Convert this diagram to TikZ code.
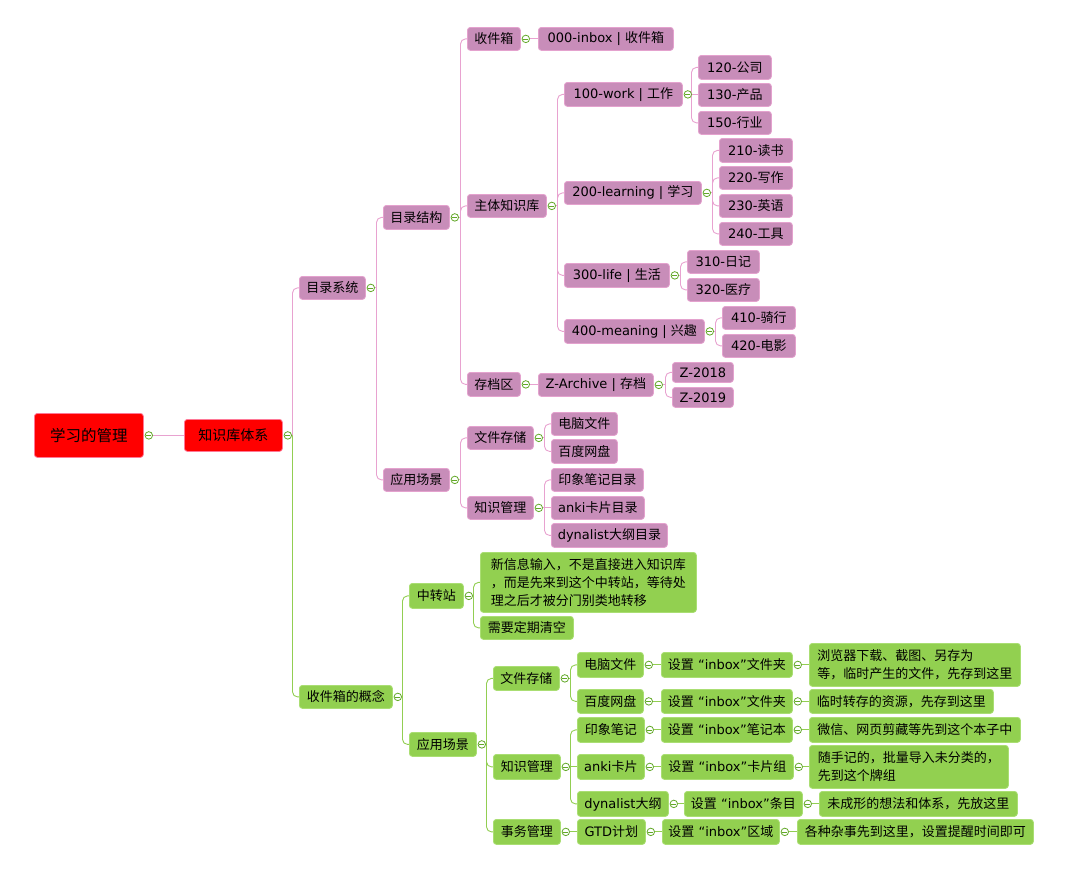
\documentclass[tikz,border=0pt]{standalone}
\usepackage{fontspec}
\setmainfont{Noto Sans CJK SC}
\newfontfamily\lat{DejaVu Sans}
\usetikzlibrary{calc}
\definecolor{pkfill}{RGB}{200,141,185}
\definecolor{pkdraw}{RGB}{228,162,206}
\definecolor{pkline}{RGB}{232,162,208}
\definecolor{gnfill}{RGB}{146,208,80}
\definecolor{gndraw}{RGB}{170,222,115}
\definecolor{gnline}{RGB}{146,206,82}
\definecolor{tgcol}{RGB}{98,168,40}
\definecolor{rdfill}{RGB}{255,0,0}
\definecolor{rddraw}{RGB}{255,120,150}
\pgfdeclarelayer{bg}
\pgfsetlayers{bg,main}
\tikzset{
 box/.style={rectangle, rounded corners=3pt, inner sep=0pt, anchor=north west,
   font=\fontsize{13}{18}\selectfont, text=black, line width=0.8pt, align=left},
 pk/.style={box, fill=pkfill, draw=pkdraw},
 gn/.style={box, fill=gnfill, draw=gndraw},
 rd/.style={box, fill=rdfill, draw=rddraw},
 tog/.style={circle, draw=tgcol, fill=white, line width=0.8pt, minimum size=7.5pt, inner sep=0pt,
   path picture={\draw[tgcol, line width=0.8pt] ($(path picture bounding box.west)+(1.4pt,0)$) -- ($(path picture bounding box.east)+(-1.4pt,0)$);}},
 pkl/.style={draw=pkline, line width=0.9pt},
 gnl/.style={draw=gnline, line width=0.9pt},
}
% box: style, name, left, top, right, bottom, text
\newcommand\bx[7]{\node[#1, minimum width={#5-#3}, minimum height={#6-#4}] (#2) at (#3,#4) {#7};}
\newcommand\tg[1]{\node[tog] (c#1) at ($(#1.east)+(5,0)$) {};}
\newcommand\jct[3][pkl]{\coordinate (j#2) at ($(c#2.center -| #3.west)+(-6.5,0)$); \draw[#1] (c#2.east) -- (j#2);}
\newcommand\kid[3][pkl]{\draw[#1, rounded corners=5pt] (j#2) |- (#3.west);}
\newcommand\kidh[3][pkl]{\draw[#1] (j#2) -- (j#2 -| #3.west);}
\newcommand\one[3][pkl]{\draw[#1] (c#2.east) -- (c#2.east -| #3.west);}
\begin{document}
\begin{tikzpicture}[x=1pt,y=-1pt]
\useasboundingbox (0,0) rectangle (1066,870);
% ---------- pink branch ----------
\bx{rd}{root}{34}{413}{143}{457}{\fontsize{15.5}{18}\selectfont 学习的管理}
\bx{rd}{zsk}{184}{419}{282}{451}{\fontsize{14}{18}\selectfont 知识库体系}
\bx{pk}{mlxt}{299}{276}{365}{299}{目录系统}
\bx{pk}{mljg}{383}{205}{449}{229}{目录结构}
\bx{pk}{sjx}{467}{27}{520}{50}{收件箱}
\bx{pk}{ztzsk}{467}{194}{546}{217}{主体知识库}
\bx{pk}{dqq}{467}{372}{520}{396}{存档区}
\bx{pk}{inbox}{538}{27}{673}{50}{{\lat 000-inbox | }收件箱}
\bx{pk}{work}{564}{82}{682}{106}{{\lat 100-work | }工作}
\bx{pk}{learn}{564}{181}{701}{204}{{\lat 200-learning | }学习}
\bx{pk}{life}{564}{263}{669}{287}{{\lat 300-life | }生活}
\bx{pk}{mean}{564}{319}{704}{343}{{\lat 400-meaning | }兴趣}
\bx{pk}{arch}{538}{373}{653}{396}{{\lat Z-Archive | }存档}
\bx{pk}{a120}{698}{55}{771}{79}{{\lat 120-}公司}
\bx{pk}{a130}{698}{83}{771}{106}{{\lat 130-}产品}
\bx{pk}{a150}{698}{111}{771}{134}{{\lat 150-}行业}
\bx{pk}{a210}{719}{138}{792}{162}{{\lat 210-}读书}
\bx{pk}{a220}{719}{166}{792}{189}{{\lat 220-}写作}
\bx{pk}{a230}{719}{194}{792}{217}{{\lat 230-}英语}
\bx{pk}{a240}{719}{222}{792}{245}{{\lat 240-}工具}
\bx{pk}{a310}{687}{250}{759}{273}{{\lat 310-}日记}
\bx{pk}{a320}{687}{278}{759}{301}{{\lat 320-}医疗}
\bx{pk}{a410}{722}{306}{795}{329}{{\lat 410-}骑行}
\bx{pk}{a420}{722}{334}{795}{357}{{\lat 420-}电影}
\bx{pk}{z18}{672}{362}{733}{382}{{\lat Z-2018}}
\bx{pk}{z19}{672}{387}{733}{407}{{\lat Z-2019}}
\bx{pk}{yycj}{383}{468}{449}{491}{应用场景}
\bx{pk}{wjcc}{467}{426}{533}{449}{文件存储}
\bx{pk}{zsgl}{467}{496}{533}{519}{知识管理}
\bx{pk}{dnwj}{551}{412}{617}{435}{电脑文件}
\bx{pk}{bdwp}{551}{439}{617}{463}{百度网盘}
\bx{pk}{yxbj}{551}{468}{643}{491}{印象笔记目录}
\bx{pk}{anki}{551}{496}{644}{519}{{\lat anki}卡片目录}
\bx{pk}{dyna}{551}{523}{667}{547}{{\lat dynalist}大纲目录}
% ---------- green branch ----------
\bx{gn}{sjgn}{299}{685}{392}{708}{收件箱的概念}
\bx{gn}{zzz}{409}{583}{463}{608}{中转站}
\bx{gn}{gyy}{409}{732}{476}{756}{应用场景}
\bx{gn}{xxx}{480}{552}{696}{612}{新信息输入，不是直接进入知识库\\，而是先来到这个中转站，等待处\\理之后才被分门别类地转移}
\bx{gn}{xyqk}{480}{616}{573}{639}{需要定期清空}
\bx{gn}{gwj}{493}{666}{559}{690}{文件存储}
\bx{gn}{gzs}{493}{754}{560}{779}{知识管理}
\bx{gn}{gsw}{493}{819}{560}{844}{事务管理}
\bx{gn}{gdn}{577}{652}{643}{677}{电脑文件}
\bx{gn}{gbd}{577}{689}{643}{713}{百度网盘}
\bx{gn}{gyx}{577}{717}{644}{742}{印象笔记}
\bx{gn}{gak}{577}{754}{644}{779}{{\lat anki}卡片}
\bx{gn}{gdy}{577}{791}{668}{816}{{\lat dynalist}大纲}
\bx{gn}{ggtd}{577}{819}{645}{844}{{\lat GTD}计划}
\bx{gn}{s1}{661}{652}{792}{677}{设置{\lat{} “inbox”}文件夹}
\bx{gn}{s2}{661}{689}{792}{713}{设置{\lat{} “inbox”}文件夹}
\bx{gn}{s3}{661}{717}{792}{742}{设置{\lat{} “inbox”}笔记本}
\bx{gn}{s4}{661}{754}{793}{779}{设置{\lat{} “inbox”}卡片组}
\bx{gn}{s5}{684}{791}{802}{816}{设置{\lat{} “inbox”}条目}
\bx{gn}{s6}{662}{819}{779}{844}{设置{\lat{} “inbox”}区域}
\bx{gn}{d1}{809}{643}{1020}{686}{浏览器下载、截图、另存为\\等，临时产生的文件，先存到这里}
\bx{gn}{d2}{809}{689}{993}{713}{临时转存的资源，先存到这里}
\bx{gn}{d3}{809}{717}{1020}{742}{微信、网页剪藏等先到这个本子中}
\bx{gn}{d4}{809}{745}{1008}{788}{随手记的，批量导入未分类的，\\先到这个牌组}
\bx{gn}{d5}{819}{791}{1017}{816}{未成形的想法和体系，先放这里}
\bx{gn}{d6}{797}{819}{1033}{844}{各种杂事先到这里，设置提醒时间即可}
% ---------- toggles ----------
\foreach \n in {root,zsk,mlxt,mljg,sjx,ztzsk,dqq,work,learn,life,mean,arch,yycj,wjcc,zsgl,
  sjgn,zzz,gyy,gwj,gzs,gsw,gdn,gbd,gyx,gak,gdy,ggtd,s1,s2,s3,s4,s5,s6}{\tg{\n}}
% ---------- connectors ----------
\begin{pgfonlayer}{bg}
\one{root}{zsk}
\jct{zsk}{mlxt}
\kid{zsk}{mlxt}
\kid[gnl]{zsk}{sjgn}
\jct{mlxt}{mljg}
\kid{mlxt}{mljg}
\kid{mlxt}{yycj}
\jct{mljg}{sjx}
\kid{mljg}{sjx}
\kid{mljg}{ztzsk}
\kid{mljg}{dqq}
\one{sjx}{inbox}
\one{dqq}{arch}
\jct{ztzsk}{work}
\kid{ztzsk}{work}
\kid{ztzsk}{learn}
\kid{ztzsk}{life}
\kid{ztzsk}{mean}
\jct{work}{a120}
\kid{work}{a120}
\kidh{work}{a130}
\kid{work}{a150}
\jct{learn}{a210}
\kid{learn}{a210}
\kid{learn}{a220}
\kid{learn}{a230}
\kid{learn}{a240}
\jct{life}{a310}
\kid{life}{a310}
\kid{life}{a320}
\jct{mean}{a410}
\kid{mean}{a410}
\kid{mean}{a420}
\jct{arch}{z18}
\kid{arch}{z18}
\kid{arch}{z19}
\jct{yycj}{wjcc}
\kid{yycj}{wjcc}
\kid{yycj}{zsgl}
\jct{wjcc}{dnwj}
\kid{wjcc}{dnwj}
\kid{wjcc}{bdwp}
\jct{zsgl}{yxbj}
\kid{zsgl}{yxbj}
\kidh{zsgl}{anki}
\kid{zsgl}{dyna}
% green
\jct[gnl]{sjgn}{zzz}
\kid[gnl]{sjgn}{zzz}
\kid[gnl]{sjgn}{gyy}
\jct[gnl]{zzz}{xxx}
\kid[gnl]{zzz}{xxx}
\kid[gnl]{zzz}{xyqk}
\jct[gnl]{gyy}{gwj}
\kid[gnl]{gyy}{gwj}
\kid[gnl]{gyy}{gzs}
\kid[gnl]{gyy}{gsw}
\jct[gnl]{gwj}{gdn}
\kid[gnl]{gwj}{gdn}
\kid[gnl]{gwj}{gbd}
\jct[gnl]{gzs}{gyx}
\kid[gnl]{gzs}{gyx}
\kidh[gnl]{gzs}{gak}
\kid[gnl]{gzs}{gdy}
\one[gnl]{gsw}{ggtd}
\one[gnl]{gdn}{s1}
\one[gnl]{gbd}{s2}
\one[gnl]{gyx}{s3}
\one[gnl]{gak}{s4}
\one[gnl]{gdy}{s5}
\one[gnl]{ggtd}{s6}
\one[gnl]{s1}{d1}
\one[gnl]{s2}{d2}
\one[gnl]{s3}{d3}
\one[gnl]{s4}{d4}
\one[gnl]{s5}{d5}
\one[gnl]{s6}{d6}
\end{pgfonlayer}
\end{tikzpicture}
\end{document}
